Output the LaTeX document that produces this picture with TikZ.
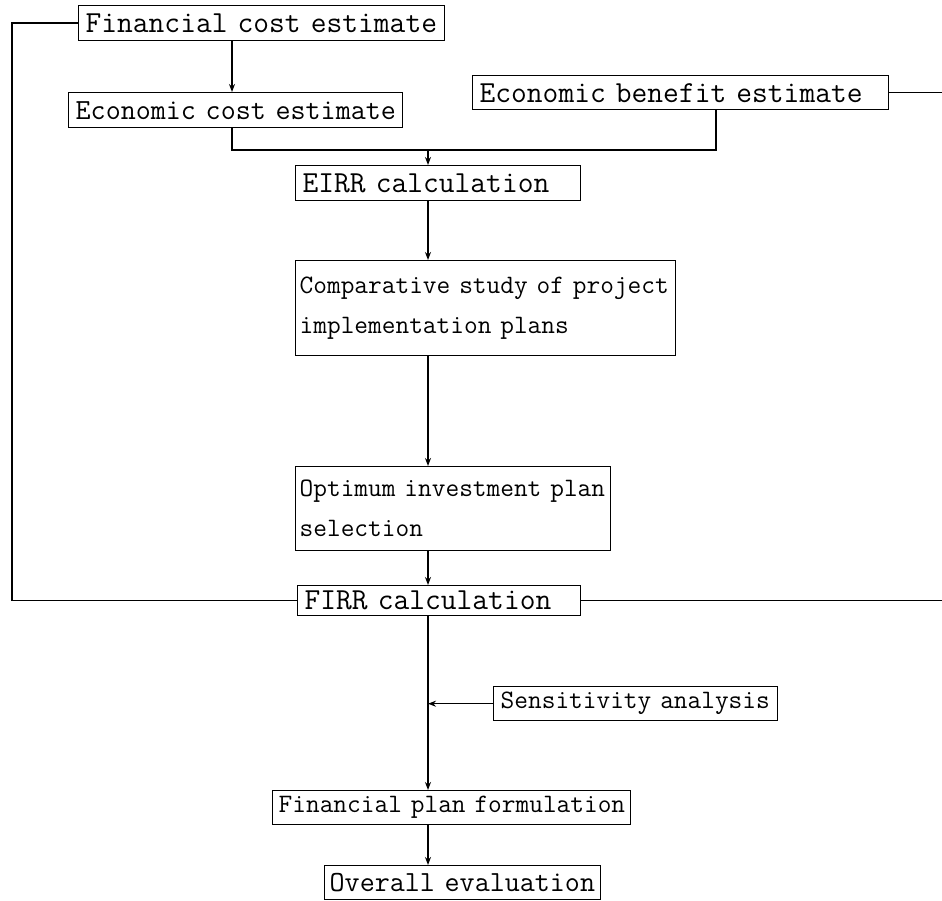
\documentclass[tikz,border=0pt]{standalone}
\usepackage{fontspec}
\usetikzlibrary{arrows.meta,calc}
\hyphenpenalty=10000
\begin{document}
\begin{tikzpicture}[x=1pt,y=-1pt,
  every path/.style={line width=1.4pt},
  box/.style={draw, line width=1.4pt, rectangle, anchor=north west, align=left,
    inner xsep=7pt, inner ysep=2pt},
  bigf/.style={font=\ttfamily\fontsize{30.6}{40}\selectfont},
  midf/.style={font=\ttfamily\fontsize{29.2}{40}\selectfont},
  smf/.style={font=\ttfamily\fontsize{26.6}{40}\selectfont},
  arr/.style={-{Stealth[length=8pt,width=6pt]}}]
\useasboundingbox (0,0) rectangle (942,901);
\node[box,bigf,minimum width=366pt,minimum height=35pt,text width=352pt] (fin) at (78,5) {\mbox{Financial cost estimate}};
\node[box,bigf,minimum width=416pt,minimum height=34pt,text width=402pt] (ecb) at (472,75) {\mbox{Economic benefit estimate}};
\node[box,midf,minimum width=334pt,minimum height=35pt,text width=320pt] (ecc) at (68,92) {\mbox{Economic cost estimate}};
\node[box,bigf,minimum width=285pt,minimum height=35pt,text width=271pt] (eirr) at (295,165) {\mbox{EIRR calculation}};
\node[box,smf,inner xsep=4pt,minimum width=380pt,minimum height=95pt,text width=372pt] (comp) at (295,260) {\mbox{Comparative study of project}\\\mbox{implementation plans}};
\node[box,smf,inner xsep=4pt,minimum width=315pt,minimum height=84pt,text width=307pt] (opt) at (295,466) {\mbox{Optimum investment plan}\\\mbox{selection}};
\node[box,bigf,minimum width=283pt,minimum height=30pt,text width=269pt] (firr) at (297,585) {\mbox{FIRR calculation}};
\node[box,smf,minimum width=284pt,minimum height=34pt,text width=270pt] (sens) at (493,686) {\mbox{Sensitivity analysis}};
\node[box,smf,inner xsep=6pt,minimum width=358pt,minimum height=34pt,text width=346pt] (fpl) at (272,790) {\mbox{Financial plan formulation}};
\node[box,midf,inner xsep=5pt,minimum width=276pt,minimum height=34pt,text width=266pt] (ovr) at (324,865) {\mbox{Overall evaluation}};
\coordinate (spine) at (428,0);
\coordinate (lft) at (12,0);
\coordinate (redge) at (942,0);
\coordinate (j) at (428,150);
\coordinate (bj) at (716,150);
\coordinate (fx) at (232,0);
% left feedback line
\draw (fin.west) -- (fin.west -| lft) -- (firr.west -| lft) -- (firr.west);
% right lines leaving the picture
\draw (ecb.east) -- (ecb.east -| redge);
\draw (firr.east) -- (firr.east -| redge);
% financial cost -> economic cost
\draw[arr] (fin.south -| fx) -- (ecc.north -| fx);
% merge into EIRR
\draw (ecc.south -| fx) -- (j -| fx) -- (bj) -- (bj |- ecb.south);
\draw[arr] (j) -- (eirr.north -| spine);
\draw[arr] (eirr.south -| spine) -- (comp.north -| spine);
\draw[arr] (comp.south -| spine) -- (opt.north -| spine);
\draw[arr] (opt.south -| spine) -- (firr.north -| spine);
\draw[arr] (firr.south -| spine) -- (fpl.north -| spine);
\draw[arr] (sens.west) -- (sens.west -| spine);
\draw[arr] (fpl.south -| spine) -- (ovr.north -| spine);
\end{tikzpicture}
\end{document}
